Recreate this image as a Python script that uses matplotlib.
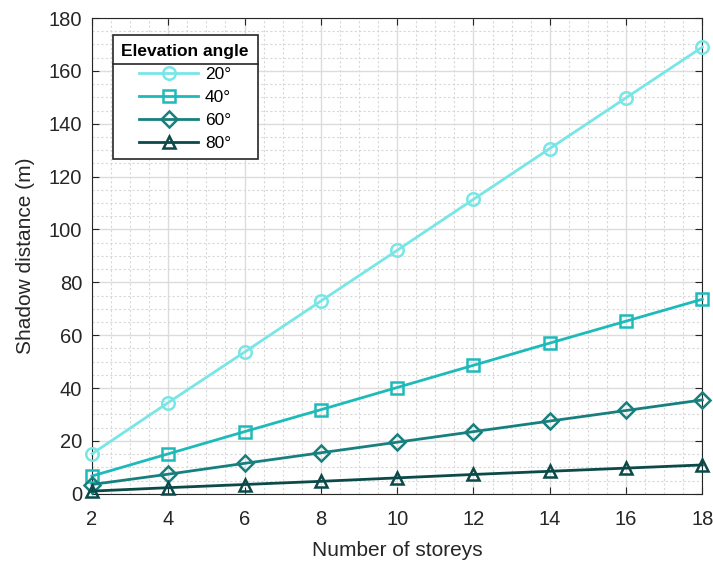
import numpy as np
import matplotlib
matplotlib.use('Agg')
import matplotlib.pyplot as plt
from matplotlib.ticker import MultipleLocator
from matplotlib.lines import Line2D

plt.rcParams['font.family'] = ['Liberation Sans', 'DejaVu Sans']

storeys = [2, 4, 6, 8, 10, 12, 14, 16, 18]
d20 = [15.1, 34.5, 53.6, 72.9, 92.1, 111.4, 130.6, 149.8, 169.0]
d40 = [6.7, 15.1, 23.5, 31.8, 40.2, 48.6, 57.0, 65.3, 73.6]
d60 = [3.5, 7.4, 11.5, 15.5, 19.5, 23.5, 27.5, 31.5, 35.5]
d80 = [1.0, 2.3, 3.5, 4.7, 6.0, 7.3, 8.5, 9.7, 10.9]
labels = ['20\u00b0', '40\u00b0', '60\u00b0', '80\u00b0']
colors = ['#78e6e6', '#1dbaba', '#17807f', '#0b4a48']
markers = ['o', 's', 'D', '^']
msizes = [9, 8, 8, 9]

fig = plt.figure(figsize=(7.13, 5.63), dpi=100)
ax = fig.add_axes([0.129, 0.123, 0.856, 0.845])

for y, lab, c, m, ms in zip([d20, d40, d60, d80], labels, colors, markers, msizes):
    ax.plot(storeys, y, '-', color=c, marker=m, markersize=ms, markerfacecolor='none',
            markeredgewidth=1.8, linewidth=2, label=lab, clip_on=False, zorder=3)

ax.set_xlim(2, 18)
ax.set_ylim(0, 180)
ax.xaxis.set_major_locator(MultipleLocator(2))
ax.yaxis.set_major_locator(MultipleLocator(20))
ax.xaxis.set_minor_locator(MultipleLocator(0.5))
ax.yaxis.set_minor_locator(MultipleLocator(5))
ax.grid(True, which='major', color='#dcdcdc', linewidth=1)
ax.grid(True, which='minor', color='#d8d8d8', linestyle=(0, (2, 2)), linewidth=0.8)
ax.tick_params(which='minor', length=0)
ax.tick_params(which='major', direction='in', length=5, labelsize=14.5, colors='#262626',
               top=True, right=True)
ax.tick_params(axis='x', pad=12)
ax.tick_params(axis='y', pad=7)
for s in ax.spines.values():
    s.set_color('#262626')
ax.set_axisbelow(True)

ax.set_xlabel('Number of storeys', fontsize=15, color='#262626', labelpad=8)
ax.set_ylabel('Shadow distance (m)', fontsize=15, color='#262626', labelpad=10)

leg = ax.legend(title='Elevation angle', loc='upper left', bbox_to_anchor=(0.034, 0.964),
                fontsize=12.5, fancybox=False, edgecolor='#262626', framealpha=1,
                handlelength=3.4, handletextpad=0.4, borderaxespad=0, labelspacing=0.45,
                borderpad=0.5)
leg.get_title().set_fontweight('bold')
leg.get_title().set_fontsize(12.5)
leg.get_frame().set_linewidth(1.2)

fig.canvas.draw()
r = fig.canvas.get_renderer()
fb = leg.get_frame().get_window_extent(r)
tb = leg.get_title().get_window_extent(r)
yline = tb.y0 - 5
inv = fig.transFigure.inverted()
(x0, y0), (x1, y1) = inv.transform([(fb.x0, yline), (fb.x1, yline)])
fig.add_artist(Line2D([x0, x1], [y0, y1], color='#262626', linewidth=1.2, zorder=10))

fig.savefig('out.png', dpi=100)
